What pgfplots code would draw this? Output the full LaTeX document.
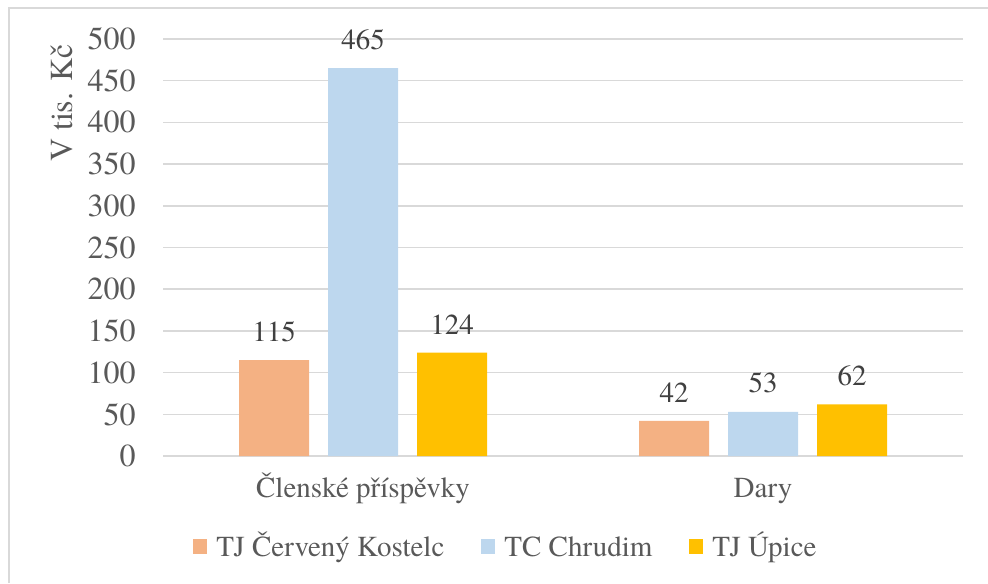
\documentclass[border=0pt]{standalone}
\usepackage{pgfplots}
\pgfplotsset{compat=1.18}
\usepackage{fontspec}
\setmainfont{texgyretermes}[Extension=.otf, UprightFont=*-regular, BoldFont=*-bold, ItalicFont=*-italic, BoldItalicFont=*-bolditalic]
\definecolor{cOrange}{HTML}{F4B183}
\definecolor{cBlue}{HTML}{BDD7EE}
\definecolor{cGold}{HTML}{FFC000}
\definecolor{cGrid}{HTML}{D9D9D9}
\definecolor{cText}{HTML}{595959}
\definecolor{cVal}{HTML}{404040}
\newcommand\bigf{\fontsize{16}{19}\selectfont}
\newcommand\smf{\fontsize{14.5}{17}\selectfont}
\begin{document}
\begin{tikzpicture}
\path[use as bounding box] (0,0) rectangle (494pt,291.5pt);
\draw[cGrid, line width=0.75pt] (4.5pt,0) -- (4.5pt,287.5pt) -- (494pt,287.5pt);
\begin{axis}[
  at={(81.5pt,63.5pt)}, anchor=south west,
  scale only axis, width=400pt, height=208.5pt,
  font=\bigf,
  /pgf/number format/assume math mode=true,
  ybar=9.5pt, bar width=35pt,
  xmin=-0.5, xmax=1.5, ymin=0, ymax=500,
  xtick={0,1}, xticklabels={Členské příspěvky, Dary},
  ytick={0,50,...,500},
  major tick length=0pt,
  axis x line*=bottom, axis y line*=left,
  x axis line style={cGrid, line width=0.75pt, -},
  y axis line style={draw=none},
  ymajorgrids, grid style={cGrid, line width=0.75pt},
  tick label style={text=cText},
  yticklabel style={anchor=east, inner sep=0pt, xshift=-13.5pt, font=\bigf},
  xticklabel style={anchor=base, yshift=-20.5pt, font=\smf},
  ylabel={V tis. Kč},
  ylabel style={at={(axis description cs:-0.12625,0.846)}, anchor=center, rotate=0, text=cText, font=\bigf},
  nodes near coords,
  nodes near coords style={anchor=south, inner sep=0pt, yshift=9pt, text=cVal, font=\smf},
  legend columns=3,
  legend style={at={(axis description cs:0.0375,-0.2254)}, anchor=west, draw=none, fill=none,
    inner sep=0pt, text=cText, font=\smf,
    nodes={anchor=base, text height=10pt, text depth=3pt, inner sep=0pt},
    /tikz/every odd column/.append style={column sep=4.5pt},
    /tikz/every even column/.append style={column sep=18.5pt}},
  legend image code/.code={\fill[#1] (0pt,1.5pt) rectangle (7pt,9pt);},
]
\addplot[fill=cOrange, draw=none] coordinates {(0,115) (1,42)};
\addplot[fill=cBlue, draw=none] coordinates {(0,465) (1,53)};
\addplot[fill=cGold, draw=none] coordinates {(0,124) (1,62)};
\legend{TJ Červený Kostelc, TC Chrudim, TJ Úpice}
\end{axis}
\end{tikzpicture}
\end{document}
